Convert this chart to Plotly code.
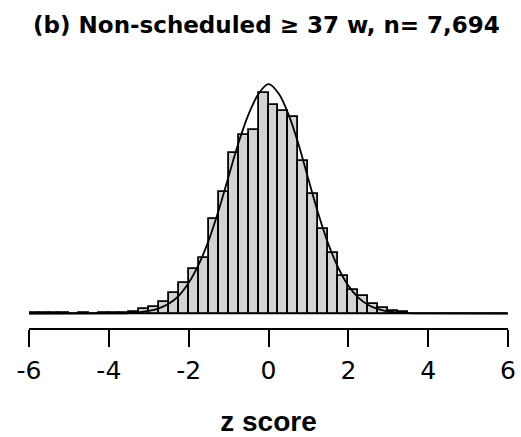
import plotly.graph_objects as go

# ---- data ----
n_total = 7694
bin_start = -6.0
bin_width = 0.25
# counts per 0.25-wide bin, from -6 to 6 (48 bins)
counts = [1, 1, 1, 1, 0, 1, 0, 1, 2, 3,
          4, 14, 23, 38, 70, 104, 149, 188, 318, 411, 543, 603, 619, 747,
          706, 684, 665, 517, 405, 284, 203, 126, 78, 59, 31, 17, 7, 4,
          0, 0, 0, 0, 0, 0, 0, 0, 0, 0]

# overlaid density curve
curve_x = [-6, -4, -3.5, -3, -2.75, -2.5, -2.25, -2, -1.75, -1.5, -1.25, -1, -0.75,
           -0.5, -0.25, 0, 0.25, 0.5, 0.75, 1, 1.25, 1.5, 1.75, 2, 2.25, 2.5,
           2.75, 3, 3.5, 4, 6]
curve_density = [0.0, 0.0002, 0.0009, 0.0045, 0.009, 0.017, 0.031, 0.054, 0.086,
                 0.128, 0.181, 0.241, 0.300, 0.350, 0.386, 0.403, 0.387, 0.350,
                 0.298, 0.236, 0.175, 0.122, 0.080, 0.049, 0.028, 0.015, 0.0075,
                 0.0035, 0.0006, 0.0001, 0.0]

x_ticks = [-6, -4, -2, 0, 2, 4, 6]
title_text = "(b) Non-scheduled \u2265 37 w, n= 7,694"
x_title = "z score"

# ---- derived ----
centers = [bin_start + bin_width * (i + 0.5) for i in range(len(counts))]
edges_span = [bin_start, bin_start + bin_width * len(counts)]
curve_y = [d * n_total * bin_width for d in curve_density]

FONT = "DejaVu Sans, Liberation Sans, Arial, sans-serif"
FONT2 = "Liberation Sans, Arial, Helvetica, sans-serif"

fig = go.Figure()
# baseline (zero-height bins drawn as a line, as in R's hist)
fig.add_trace(go.Scatter(x=edges_span, y=[0, 0], mode="lines",
                         line=dict(color="black", width=1.5),
                         hoverinfo="skip", showlegend=False))
fig.add_trace(go.Bar(x=centers, y=counts, width=bin_width,
                     marker=dict(color="#d3d3d3", line=dict(color="black", width=1.8)),
                     showlegend=False))
fig.add_trace(go.Scatter(x=curve_x, y=curve_y, mode="lines",
                         line=dict(color="black", width=1.8, shape="spline", smoothing=1.0),
                         showlegend=False))

px_per_count = 0.2958
plot_top, baseline_px, plot_bottom = 60, 313.5, 328
fig.update_layout(
    width=521, height=437,
    margin=dict(l=29, r=13, t=plot_top, b=437 - plot_bottom, pad=0, autoexpand=False),
    paper_bgcolor="white", plot_bgcolor="white",
    bargap=0,
    title=dict(text=title_text, x=0.5115, xref="container", xanchor="center",
               y=1 - 25 / 437, yref="container", yanchor="middle",
               font=dict(family=FONT, size=23, color="black", weight="bold")),
    xaxis=dict(range=[-6, 6], tickvals=x_ticks, ticktext=[str(v) for v in x_ticks],
               automargin=False,
               ticks="outside", ticklen=17, tickwidth=1.5, tickcolor="black",
               showline=True, linewidth=1.5, linecolor="black",
               showgrid=False, zeroline=False,
               tickfont=dict(family=FONT, size=25, color="black"),
               ticklabelstandoff=2,
               title=dict(text=x_title, standoff=28,
                          font=dict(family=FONT2, size=28, color="black", weight="bold"))),
    yaxis=dict(range=[-(plot_bottom - baseline_px) / px_per_count,
                      (baseline_px - plot_top) / px_per_count],
               automargin=False,
               visible=False, showgrid=False, zeroline=False),
)

fig.write_html("out.html")
